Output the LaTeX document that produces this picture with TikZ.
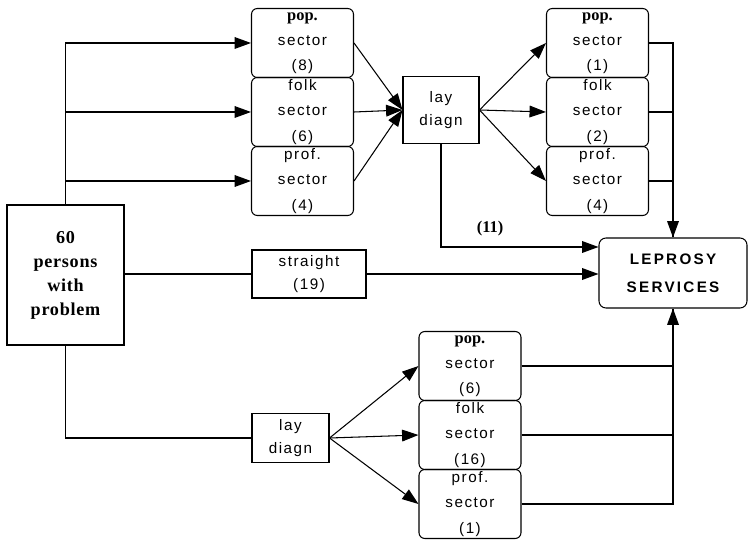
\documentclass[tikz,border=0pt]{standalone}
\usepackage{fontspec}
\setmainfont{Liberation Serif}
\newfontfamily\sectfont{Liberation Sans}[LetterSpace=10]
\newfontfamily\lepfont{Liberation Sans}[LetterSpace=15]
\newfontfamily\persfont{Liberation Serif}[LetterSpace=4]
\usepackage{tikz}
\usetikzlibrary{positioning, calc, arrows.meta}

\tikzset{
    arr/.style={-{Triangle[length=14pt,width=10pt]}},
    sectbox/.style={draw, rounded corners=5pt, minimum width=3.06cm, minimum height=2.07cm,
        inner sep=0pt, align=center, font={\sectfont\fontsize{13}{21.5}\selectfont}},
    plainbox/.style={draw, inner sep=0pt, align=center, font={\sectfont\fontsize{13}{20}\selectfont}}
}
\newcommand{\popword}{{\rmfamily\bfseries\fontsize{14}{21}\selectfont pop.}}

\begin{document}
\begin{tikzpicture}[x=0.03cm, y=-0.03cm, line width=0.9pt]

    \useasboundingbox (0,0) rectangle (749,541);

    % persons and straight
    \node[draw, minimum width=3.51cm, minimum height=4.2cm, align=center,
        font={\persfont\bfseries\fontsize{15.5}{20.5}\selectfont}] (pers) at (65.5, 275)
        {60\\persons\\with\\problem};
    \node[plainbox, minimum width=3.42cm, minimum height=1.44cm] (str) at (309, 274)
        {straight\\(19)};
    \node[draw, rounded corners=6pt, minimum width=4.44cm, minimum height=2.1cm, align=center,
        font={\lepfont\bfseries\fontsize{13}{24}\selectfont}] (lep) at (673, 273)
        {LEPROSY\\SERVICES};

    % top branch
    \node[sectbox] (tpop)  at (302.5, 43)  {\popword\\sector\\(8)};
    \node[sectbox] (tfolk) at (302.5, 112) {folk\\sector\\(6)};
    \node[sectbox] (tprof) at (302.5, 181) {prof.\\sector\\(4)};
    \node[plainbox, minimum width=2.28cm, minimum height=2.01cm] (lay1) at (441, 110)
        {lay\\diagn};
    \node[sectbox] (rpop)  at (597.5, 43)  {\popword\\sector\\(1)};
    \node[sectbox] (rfolk) at (597.5, 112) {folk\\sector\\(2)};
    \node[sectbox] (rprof) at (597.5, 181) {prof.\\sector\\(4)};
    \node[font={\rmfamily\bfseries\fontsize{14}{16}\selectfont}] (n11) at (490, 229) {(11)};

    % bottom branch
    \node[plainbox, minimum width=2.31cm, minimum height=1.47cm] (lay2) at (290.5, 438)
        {lay\\diagn};
    \node[sectbox] (bpop)  at (470, 366) {\popword\\sector\\(6)};
    \node[sectbox] (bfolk) at (470, 435) {folk\\sector\\(16)};
    \node[sectbox] (bprof) at (470, 504) {prof.\\sector\\(1)};

    % connectors from persons
    \draw[arr] (pers.north) |- (tpop.west);
    \draw[arr] (pers.north) |- (tfolk.west);
    \draw[arr] (pers.north) |- (tprof.west);
    \draw (pers.east |- str.west) -- (str.west);
    \draw (pers.south) |- (lay2.west);

    % top lay diagnosis
    \draw[arr] (tpop.east)  -- (lay1.west);
    \draw[arr] (tfolk.east) -- (lay1.west);
    \draw[arr] (tprof.east) -- (lay1.west);
    \draw[arr] (lay1.east) -- (rpop.west);
    \draw[arr] (lay1.east) -- (rfolk.west);
    \draw[arr] (lay1.east) -- (rprof.west);
    \draw (rfolk.east) -| (lep.north);
    \draw (rprof.east) -| (lep.north);
    \draw[arr] (rpop.east) -| (lep.north);
    \draw[arr] (lay1.south) |- ([yshift=0.78cm]lep.west);

    % straight
    \draw[arr] (str.east) -- (str.east -| lep.west);

    % bottom lay diagnosis
    \draw[arr] (lay2.east) -- (bpop.west);
    \draw[arr] (lay2.east) -- (bfolk.west);
    \draw[arr] (lay2.east) -- (bprof.west);
    \draw (bpop.east) -| (lep.south);
    \draw (bfolk.east) -| (lep.south);
    \draw[arr] (bprof.east) -| (lep.south);

\end{tikzpicture}
\end{document}
